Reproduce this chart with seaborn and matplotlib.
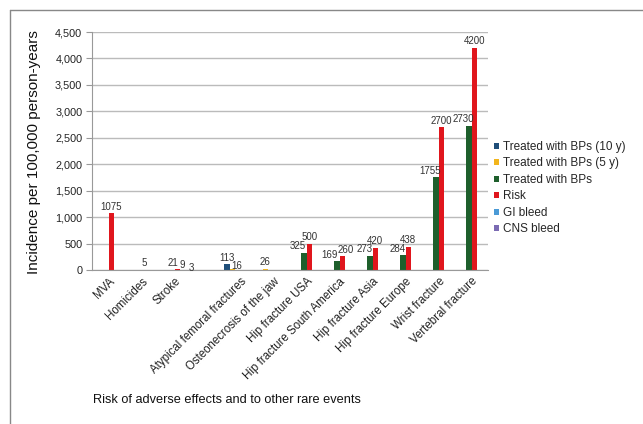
import matplotlib
matplotlib.use("Agg")
import matplotlib.pyplot as plt
import seaborn as sns
import pandas as pd
from matplotlib.lines import Line2D

categories = ["MVA", "Homicides", "Stroke", "", "Atypical femoral fractures",
              "Osteonecrosis of the jaw", "Hip fracture USA",
              "Hip fracture South America", "Hip fracture Asia",
              "Hip fracture Europe", "Wrist fracture", "Vertebral fracture"]
series = ["Treated with BPs (10 y)", "Treated with BPs (5 y)", "Treated with BPs",
          "Risk", "GI bleed", "CNS bleed"]
colors = ["#1F4E79", "#F2B51C", "#1E5F2C", "#E0161D", "#4A9AD6", "#7B6BB3"]

treated_10y = {"Atypical femoral fractures": 113}
treated_5y = {"Atypical femoral fractures": 16, "Osteonecrosis of the jaw": 26}
treated = {"Hip fracture USA": 325, "Hip fracture South America": 169,
           "Hip fracture Asia": 273, "Hip fracture Europe": 284,
           "Wrist fracture": 1755, "Vertebral fracture": 2730}
risk = {"MVA": 1075, "Homicides": 5, "Stroke": 21, "Hip fracture USA": 500,
        "Hip fracture South America": 260, "Hip fracture Asia": 420,
        "Hip fracture Europe": 438, "Wrist fracture": 2700,
        "Vertebral fracture": 4200}
gi_bleed = {"Stroke": 9}
cns_bleed = {"Stroke": 3}

rows = []
for s, d in zip(series, [treated_10y, treated_5y, treated, risk, gi_bleed, cns_bleed]):
    for c in categories:
        if c in d:
            rows.append({"Event": c, "Series": s, "Value": d[c]})
df = pd.DataFrame(rows)

sns.set_style("white")
plt.rcParams["font.family"] = ["Liberation Sans", "DejaVu Sans"]

fig = plt.figure(figsize=(6.43, 4.24), dpi=100)
ax = fig.add_axes([92 / 643, 1 - 270 / 424, (488 - 92) / 643, (270 - 32) / 424])

sns.barplot(data=df, x="Event", y="Value", hue="Series", order=categories,
            hue_order=series, palette=colors, width=1.0, dodge=True,
            saturation=1, linewidth=0, ax=ax, legend=True)

# small manual nudges (in points) so crowded labels stay readable
nudges = {("Stroke", 21): (-3, 0), ("Stroke", 9): (0, -1), ("Stroke", 3): (2, -3),
          ("Atypical femoral fractures", 16): (3, -2),
          ("Hip fracture South America", 260): (2.5, 0),
          ("Hip fracture South America", 169): (-1, 0)}
for s, cont in zip(series, ax.containers):
    texts = ax.bar_label(cont, fmt="%d", fontsize=7, padding=1, color="#333333")
    for t in texts:
        x_center = t.xy[0]
        cat = categories[int(round(x_center))]
        key = (cat, int(t.get_text()))
        dx, dy = nudges.get(key, (0, 0))
        if s == "Treated with BPs":
            dx -= 4
        t.xyann = (t.xyann[0] + dx, t.xyann[1] + dy)

ax.set_ylim(0, 4500)
ax.set_xlim(-0.5, len(categories) - 0.5)
ax.set_yticks(range(0, 4501, 500))
ax.set_yticklabels([f"{v:,}" for v in range(0, 4501, 500)], fontsize=7.8, color="#222222")
ax.yaxis.grid(True, color="#BBBBBB", linewidth=1)
ax.set_axisbelow(True)
ax.set_xticks(range(len(categories)))
ax.set_xticklabels(categories, rotation=45, ha="right", rotation_mode="anchor",
                   fontsize=8.3, color="#222222")
ax.tick_params(axis="x", length=0, pad=4)
ax.set_xticks([i + 0.5 for i in range(-1, len(categories))], minor=True)
ax.tick_params(axis="x", which="minor", length=3, color="#999999", direction="out")
ax.tick_params(axis="y", length=4, color="#999999", direction="out", left=True, pad=3)
for sp in ["top", "right"]:
    ax.spines[sp].set_visible(False)
ax.spines["left"].set_color("#999999")
ax.spines["bottom"].set_color("#999999")
ax.set_xlabel("")
ax.set_ylabel("")
fig.text(34 / 643, 1 - 152 / 424, "Incidence per 100,000 person-years", rotation=90,
         ha="center", va="center", fontsize=11, color="#111111")

handles, labels = ax.get_legend_handles_labels()
ax.legend(handles, labels, loc="upper left", bbox_to_anchor=(494 / 643, 1 - 141 / 424),
          bbox_transform=fig.transFigure, frameon=False, fontsize=8.5,
          handlelength=0.4, handleheight=0.4, handletextpad=0.35, labelspacing=0.38,
          borderaxespad=0, borderpad=0)

fig.text(227 / 643, 1 - 400 / 424, "Risk of adverse effects and to other rare events",
         ha="center", va="center", fontsize=9.2, color="#111111")

fig.add_artist(Line2D([10 / 643, 10 / 643], [0, 1 - 10 / 424], transform=fig.transFigure,
                      color="#888888", linewidth=1))
fig.add_artist(Line2D([10 / 643, 1], [1 - 10 / 424, 1 - 10 / 424], transform=fig.transFigure,
                      color="#888888", linewidth=1))

fig.savefig("out.png", dpi=100)
